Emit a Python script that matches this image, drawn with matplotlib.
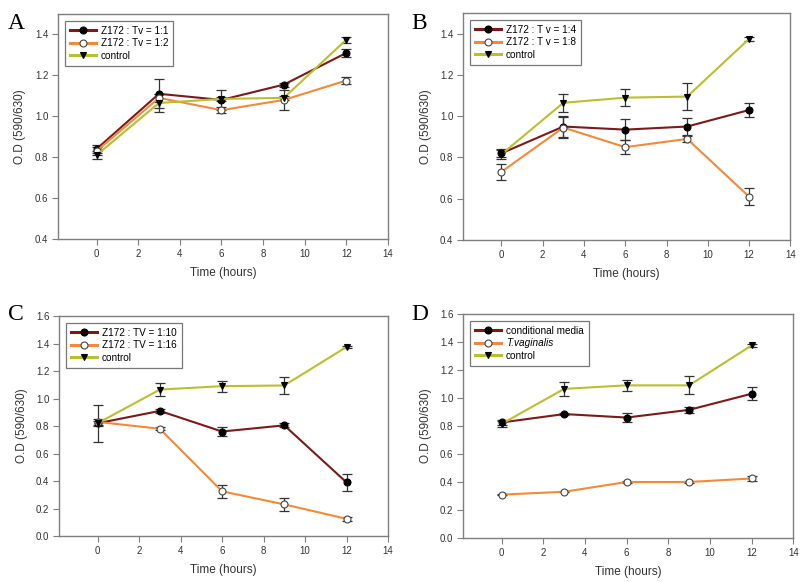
import matplotlib
matplotlib.use("Agg")
import matplotlib.pyplot as plt
import numpy as np

plt.rcParams['font.family'] = ['Liberation Sans', 'DejaVu Sans']

time = [0, 3, 6, 9, 12]

# Panel A
a_11 = [0.84, 1.11, 1.08, 1.155, 1.31]
a_11_err = [0.02, 0.07, 0.05, 0.01, 0.02]
a_12 = [0.83, 1.09, 1.03, 1.08, 1.175]
a_12_err = [0.02, 0.02, 0.015, 0.05, 0.015]
a_ctl = [0.81, 1.065, 1.085, 1.09, 1.375]
a_ctl_err = [0.02, 0.045, 0.01, 0.01, 0.015]

# Panel B
b_14 = [0.82, 0.95, 0.935, 0.95, 1.03]
b_14_err = [0.02, 0.05, 0.05, 0.04, 0.035]
b_18 = [0.73, 0.945, 0.85, 0.89, 0.61]
b_18_err = [0.04, 0.05, 0.035, 0.015, 0.04]
b_ctl = [0.815, 1.065, 1.09, 1.095, 1.375]
b_ctl_err = [0.02, 0.045, 0.04, 0.065, 0.01]

# Panel C
c_110 = [0.82, 0.91, 0.76, 0.805, 0.39]
c_110_err = [0.02, 0.015, 0.035, 0.015, 0.06]
c_116 = [0.83, 0.78, 0.325, 0.23, 0.125]
c_116_err = [0.02, 0.01, 0.045, 0.05, 0.015]
c_ctl = [0.82, 1.065, 1.09, 1.095, 1.375]
c_ctl_err = [0.135, 0.045, 0.04, 0.065, 0.01]

# Panel D
d_cm = [0.825, 0.885, 0.86, 0.915, 1.03]
d_cm_err = [0.02, 0.01, 0.035, 0.02, 0.045]
d_tv = [0.31, 0.33, 0.40, 0.40, 0.425]
d_tv_err = [0.005, 0.005, 0.005, 0.005, 0.015]
d_ctl = [0.815, 1.065, 1.09, 1.09, 1.375]
d_ctl_err = [0.02, 0.05, 0.04, 0.065, 0.01]

labels_A = ["Z172 : Tv = 1:1", "Z172 : Tv = 1:2", "control"]
labels_B = ["Z172 : T v = 1:4", "Z172 : T v = 1:8", "control"]
labels_C = ["Z172 : TV = 1:10", "Z172 : TV = 1:16", "control"]
labels_D = ["conditional media", "T.vaginalis", "control"]

c_dark = "#7a1a1a"
c_orange = "#f28a3a"
c_green = "#b9bf2e"
axis_gray = "#7f7f7f"

fig = plt.figure(figsize=(8, 5.82), dpi=100)

panels = [
    ("A", [0.0725, 0.5893, 0.4125, 0.3866], (0.4, 1.5), np.arange(0.4, 1.41, 0.2),
     [(a_11, a_11_err), (a_12, a_12_err), (a_ctl, a_ctl_err)], labels_A, (0.010, 0.978)),
    ("B", [0.579, 0.5876, 0.409, 0.39], (0.4, 1.5), np.arange(0.4, 1.41, 0.2),
     [(b_14, b_14_err), (b_18, b_18_err), (b_ctl, b_ctl_err)], labels_B, (0.514, 0.978)),
    ("C", [0.074, 0.079, 0.411, 0.378], (0.0, 1.6), np.arange(0.0, 1.61, 0.2),
     [(c_110, c_110_err), (c_116, c_116_err), (c_ctl, c_ctl_err)], labels_C, (0.010, 0.478)),
    ("D", [0.579, 0.0756, 0.4125, 0.385], (0.0, 1.6), np.arange(0.0, 1.61, 0.2),
     [(d_cm, d_cm_err), (d_tv, d_tv_err), (d_ctl, d_ctl_err)], labels_D, (0.514, 0.478)),
]

styles = [
    dict(color=c_dark, marker='o', mfc='black', mec='black', ms=5.0),
    dict(color=c_orange, marker='o', mfc='white', mec='#444444', ms=5.0),
    dict(color=c_green, marker='v', mfc='black', mec='black', ms=4.6),
]

for letter, pos, ylim, yticks, series, labels, lpos in panels:
    ax = fig.add_axes(pos)
    handles = []
    for (vals, errs), st, lab in zip(series, styles, labels):
        ax.errorbar(time, vals, yerr=errs, fmt='none', ecolor='#333333',
                    elinewidth=0.9, capsize=3.5, capthick=0.9, zorder=2)
        h, = ax.plot(time, vals, color=st['color'], lw=1.5, marker=st['marker'],
                     ms=st['ms'], mfc=st['mfc'], mec=st['mec'], mew=0.8, label=lab, zorder=3)
        handles.append(h)
    ax.set_xlim(-1.85, 14)
    ax.set_ylim(*ylim)
    ax.set_xticks([0, 2, 4, 6, 8, 10, 12, 14])
    ax.set_yticks(yticks)
    ax.set_yticklabels([f"{v:.1f}" for v in yticks])
    for sp in ax.spines.values():
        sp.set_color(axis_gray)
        sp.set_linewidth(1.0)
    ax.tick_params(direction='out', length=4, width=0.8, color=axis_gray,
                   labelsize=7, labelcolor='#333333', pad=3)
    ax.set_xlabel("Time (hours)", fontsize=8.5, color='#333333', labelpad=6)
    ax.set_ylabel("O.D (590/630)", fontsize=8.5, color='#333333', labelpad=6)
    leg = ax.legend(handles=handles, loc='upper left', bbox_to_anchor=(0.02, 0.97),
                    fontsize=7.2, frameon=True, fancybox=False, handlelength=2.6,
                    borderpad=0.5, labelspacing=0.25, handletextpad=0.5,
                    borderaxespad=0.0)
    leg.get_frame().set_edgecolor('#555555')
    leg.get_frame().set_linewidth(0.9)
    for lh in leg.get_lines():
        lh.set_linewidth(2.2)
    if letter == "D":
        leg.get_texts()[1].set_fontstyle('italic')
    fig.text(lpos[0], lpos[1], letter, fontsize=17, family=['Liberation Serif', 'DejaVu Serif'],
             ha='left', va='top')

fig.savefig("out.png", dpi=100)
